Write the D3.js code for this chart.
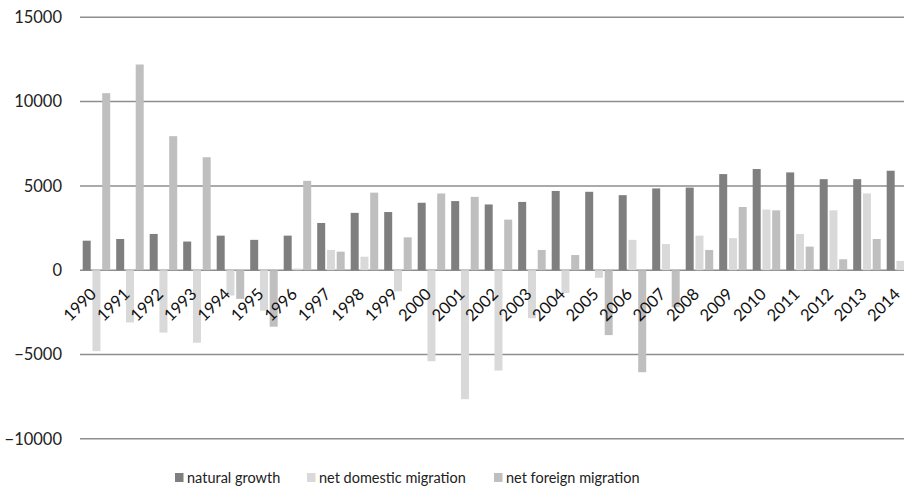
<!DOCTYPE html>
<html>
<head>
<meta charset="utf-8">
<script src="https://cdn.jsdelivr.net/npm/d3@7"></script>
<style>
  html, body { margin: 0; padding: 0; background: #fff; }
  svg { display: block; font-family: Lato, "Open Sans", sans-serif; }
</style>
</head>
<body>
<svg id="chart" width="904" height="487"></svg>
<script>
// Population change components by year
const years = ["1990","1991","1992","1993","1994","1995","1996","1997","1998","1999",
               "2000","2001","2002","2003","2004","2005","2006","2007","2008","2009",
               "2010","2011","2012","2013","2014"];
const naturalGrowth = [1750, 1850, 2150, 1700, 2050, 1800, 2050, 2800, 3400, 3450,
                       4000, 4100, 3900, 4050, 4700, 4650, 4450, 4850, 4900, 5700,
                       6000, 5800, 5400, 5400, 5900];
const netDomestic =   [-4800, -3100, -3700, -4300, -1500, -2400, 100, 1200, 800, -1250,
                       -5400, -7650, -5950, -2850, -1350, -450, 1800, 1550, 2050, 1900,
                       3600, 2150, 3550, 4550, 550];
const netForeign =    [10500, 12200, 7950, 6700, -1700, -3350, 5300, 1100, 4600, 1950,
                       4550, 4350, 3000, 1200, 900, -3850, -6050, -2200, 1200, 3750,
                       3550, 1400, 650, 1850, null];
const seriesNames = ["natural growth", "net domestic migration", "net foreign migration"];
const seriesValues = [naturalGrowth, netDomestic, netForeign];
const seriesColors = ["#7f7f7f", "#d9d9d9", "#bfbfbf"];
const yTicks = [-10000, -5000, 0, 5000, 10000, 15000];

const svg = d3.select("#chart");

const x = d3.scaleBand().domain(years).range([80, 80 + 33.5 * years.length]).padding(0);
const xs = d3.scaleBand().domain(seriesNames).range([2.7, 30.2]).paddingInner(0.18).paddingOuter(0);
const y = d3.scaleLinear().domain([-10000, 15000]).range([438.8, 17.3]);

// horizontal gridlines
svg.append("g").selectAll("line").data(yTicks).join("line")
  .attr("x1", 80).attr("x2", x.range()[1])
  .attr("y1", d => y(d)).attr("y2", d => y(d))
  .attr("stroke", "#8e8e8e").attr("stroke-width", 1.5);

// y-axis labels
const yAxis = d3.axisLeft(y).tickValues(yTicks).tickSize(0).tickPadding(0).tickFormat(d3.format("d"));
const yg = svg.append("g").attr("transform", "translate(62,0)").call(yAxis);
yg.select(".domain").remove();
yg.selectAll("text").attr("font-size", 16.5).attr("fill", "#222").attr("font-family", "Lato, sans-serif");

// bars
const rows = [];
years.forEach((yr, i) => {
  seriesNames.forEach((s, j) => {
    const v = seriesValues[j][i];
    if (v !== null) rows.push({ year: yr, series: s, value: v, color: seriesColors[j] });
  });
});
svg.append("g").selectAll("rect").data(rows).join("rect")
  .attr("x", d => x(d.year) + xs(d.series))
  .attr("width", xs.bandwidth())
  .attr("y", d => y(Math.max(0, d.value)))
  .attr("height", d => Math.abs(y(d.value) - y(0)))
  .attr("fill", d => d.color);

// x-axis labels, rotated
const xAxis = d3.axisBottom(x).tickSize(0).tickPadding(0);
const xg = svg.append("g").attr("transform", "translate(0," + y(0) + ")").call(xAxis);
xg.select(".domain").remove();
xg.selectAll("text")
  .attr("font-size", 16.5).attr("fill", "#111").attr("font-family", "Lato, sans-serif")
  .attr("text-anchor", "end")
  .attr("dy", null).attr("y", null)
  .attr("transform", "translate(0.5,25) rotate(-45)");

// legend
const legendX = [175, 307, 494];
const lg = svg.append("g").selectAll("g").data(seriesNames).join("g")
  .attr("transform", (d, i) => "translate(" + legendX[i] + ",0)");
lg.append("rect").attr("x", 0).attr("y", 473).attr("width", 8.5).attr("height", 9)
  .attr("fill", (d, i) => seriesColors[i]);
lg.append("text").attr("x", 12).attr("y", 482.5)
  .attr("font-size", 14.5).attr("fill", "#222")
  .text(d => d);
</script>
</body>
</html>
